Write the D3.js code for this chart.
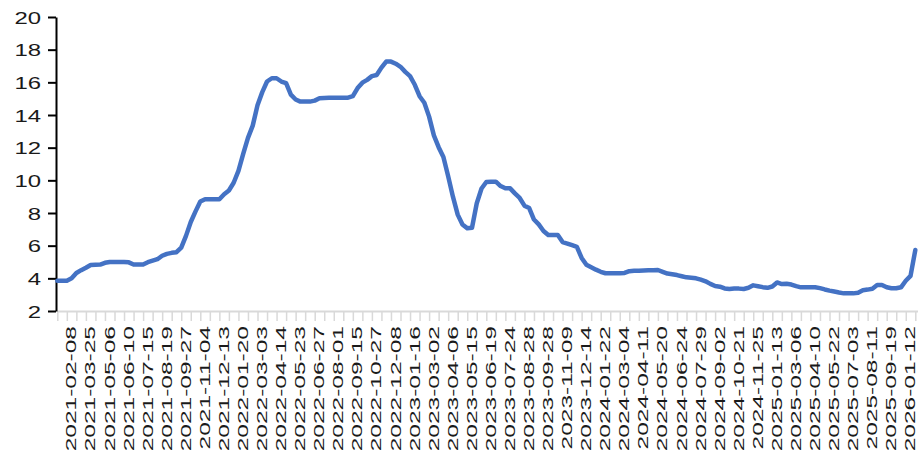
<!DOCTYPE html>
<html>
<head>
<meta charset="utf-8">
<script src="https://cdn.jsdelivr.net/npm/d3@7"></script>
<style>
  body { margin: 0; background: #fff; }
  text { font-family: "Liberation Sans", Arial, sans-serif; }
</style>
</head>
<body>
<div id="chart"></div>
<script>
// category labels, one every 4 samples (every 2nd tick)
const tickLabels = [
  "2021-02-08", "2021-03-25", "2021-05-06", "2021-06-10", "2021-07-15", "2021-08-19", "2021-09-27", "2021-11-04", "2021-12-13",
  "2022-01-20", "2022-03-03", "2022-04-14", "2022-05-23", "2022-06-27", "2022-08-01", "2022-09-15", "2022-10-27", "2022-12-08",
  "2023-01-16", "2023-03-02", "2023-04-06", "2023-05-15", "2023-06-19", "2023-07-24", "2023-08-28", "2023-09-28", "2023-11-09", "2023-12-14",
  "2024-01-22", "2024-03-04", "2024-04-11", "2024-05-20", "2024-06-24", "2024-07-29", "2024-09-02", "2024-10-21", "2024-11-25",
  "2025-01-13", "2025-03-06", "2025-04-10", "2025-05-22", "2025-07-03", "2025-08-11", "2025-09-19",
  "2026-01-12"
];

// series, one sample per half tick
const values = [
  3.85, 3.85, 3.85, 4.0, 4.33, 4.5, 4.65, 4.82, 4.83, 4.84,
  4.95, 5.0, 5.0, 5.0, 5.0, 4.98, 4.85, 4.85, 4.85, 4.99,
  5.08, 5.17, 5.38, 5.5, 5.56, 5.6, 5.88, 6.6, 7.45, 8.1,
  8.7, 8.84, 8.84, 8.84, 8.84, 9.15, 9.38, 9.85, 10.58, 11.62,
  12.6, 13.35, 14.6, 15.4, 16.05, 16.25, 16.25, 16.05, 15.95, 15.25,
  14.95, 14.82, 14.82, 14.82, 14.88, 15.02, 15.04, 15.05, 15.06, 15.06,
  15.06, 15.06, 15.15, 15.65, 15.98, 16.15, 16.38, 16.45, 16.9, 17.27,
  17.27, 17.14, 16.95, 16.64, 16.38, 15.85, 15.15, 14.75, 13.9, 12.75,
  12.03, 11.43, 10.25, 9.0, 7.9, 7.3, 7.06, 7.1, 8.6, 9.5,
  9.9, 9.92, 9.92, 9.65, 9.51, 9.51, 9.2, 8.92, 8.45, 8.3,
  7.6, 7.3, 6.9, 6.65, 6.65, 6.65, 6.22, 6.13, 6.03, 5.93,
  5.25, 4.83, 4.68, 4.53, 4.4, 4.31, 4.31, 4.31, 4.31, 4.33,
  4.44, 4.46, 4.47, 4.48, 4.49, 4.5, 4.51, 4.4, 4.29, 4.25,
  4.2, 4.13, 4.06, 4.03, 4.0, 3.92, 3.82, 3.66, 3.53, 3.49,
  3.38, 3.35, 3.38, 3.37, 3.35, 3.42, 3.57, 3.52, 3.46, 3.42,
  3.5, 3.75, 3.65, 3.67, 3.62, 3.52, 3.45, 3.45, 3.45, 3.45,
  3.4, 3.32, 3.25, 3.19, 3.13, 3.08, 3.08, 3.08, 3.12, 3.27,
  3.31, 3.36, 3.59, 3.59, 3.45, 3.39, 3.39, 3.45, 3.85, 4.15,
  5.73
];

const yTicks = [2, 4, 6, 8, 10, 12, 14, 16, 18, 20];

const width = 918, height = 465;

const svg = d3.select("#chart").append("svg")
  .attr("width", width)
  .attr("height", height);

const x = d3.scaleLinear()
  .domain([0, values.length - 1])
  .range([57.3, 915.3]);

const y = d3.scaleLinear()
  .domain([2, 20])
  .range([311, 17]);

// x axis: light grey ticks on every other sample
const xAxis = svg.append("g")
  .attr("transform", `translate(0,${y(2)})`)
  .call(d3.axisBottom(x)
    .tickValues(d3.range(0, values.length, 2))
    .tickSize(10)
    .tickSizeOuter(0)
    .tickFormat(""));
xAxis.select(".domain").attr("stroke", "#d9d9d9").attr("stroke-width", 2)
  .attr("d", `M${x(0)},0.5H${width}`);
xAxis.selectAll(".tick line").attr("stroke", "#d9d9d9").attr("stroke-width", 1.5);

// date labels, rotated, every 4 samples
svg.append("g")
  .selectAll("text")
  .data(tickLabels)
  .join("text")
  .attr("transform", (d, i) => `translate(${x(4 + 4 * i)},326) rotate(-90) scale(1.75,1)`)
  .attr("text-anchor", "end")
  .attr("font-size", 14)
  .attr("fill", "#1a1a1a")
  .text(d => d);

// y axis
const yAxis = svg.append("g")
  .attr("transform", `translate(56,0)`)
  .call(d3.axisLeft(y).tickValues(yTicks).tickSize(8).tickSizeOuter(0).tickPadding(6));
yAxis.select(".domain").attr("stroke", "#000").attr("stroke-width", 2);
yAxis.selectAll(".tick line").attr("stroke", "#000").attr("stroke-width", 2);
yAxis.selectAll(".tick text")
  .attr("font-size", 16.5)
  .attr("fill", "#1a1a1a")
  .attr("dy", null)
  .attr("y", 6)
  .attr("transform", "scale(1.45,1)")
  .attr("x", -15 / 1.45 * 1);

// series line
const line = d3.line()
  .x((d, i) => x(i))
  .y(d => y(d));

svg.append("path")
  .datum(values)
  .attr("fill", "none")
  .attr("stroke", "#4472c4")
  .attr("stroke-width", 4.5)
  .attr("stroke-linejoin", "round")
  .attr("stroke-linecap", "round")
  .attr("d", line);
</script>
</body>
</html>
